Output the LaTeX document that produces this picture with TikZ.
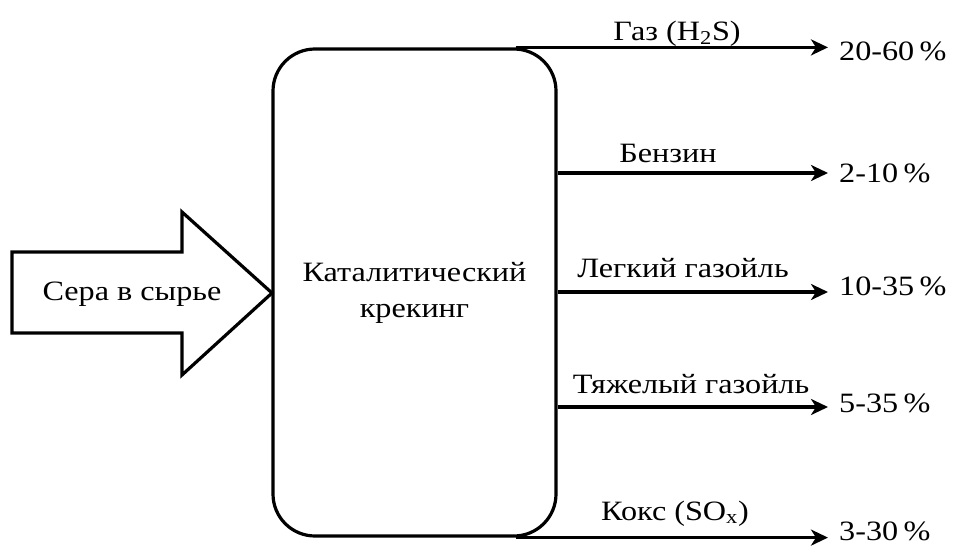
\documentclass[tikz,border=0pt]{standalone}
\usepackage{fontspec}
\usepackage{graphicx}
\setmainfont{Liberation Serif}
\usetikzlibrary{arrows.meta}
\newcommand\wide[1]{\scalebox{1.15}[1]{#1}}
\begin{document}
\begin{tikzpicture}[x=1pt,y=-1pt,
  every node/.style={font=\fontsize{28}{36}\selectfont, inner sep=0pt},
  procbox/.style={draw, line width=3.2pt, rounded corners=42pt, minimum width=283pt, minimum height=487pt},
  flow/.style={line width=3.2pt, -{Stealth[length=17pt,width=16pt,inset=5pt]}},
  blockarrow/.style={draw, line width=3.2pt, line join=miter},
  lbl/.style={anchor=base},
  pct/.style={anchor=base west, inner xsep=11pt}]
\useasboundingbox (0,0) rectangle (954,546);
% process box
\node[procbox] (box) at (414.5,292.5) {\wide{\begin{tabular}{@{}c@{}}Каталитический\\крекинг\end{tabular}}};
% input block arrow
\draw[blockarrow] (12,252) -- (182,252) -- (182,212) -- (272,293) -- (182,375) -- (182,333) -- (12,333) -- cycle;
\node[anchor=base] (in) at (132,300) {\wide{Сера в сырье}};
% outputs
\coordinate (s1) at ([xshift=-42pt]box.north east);
\coordinate (s2) at (box.east |- 0,173);
\coordinate (s3) at (box.east |- 0,292);
\coordinate (s4) at (box.east |- 0,407);
\coordinate (s5) at ([xshift=-42pt]box.south east);
\node[pct] (p1) at (828,60) {\wide{20-60\,\%}};
\node[pct] (p2) at (828,182) {\wide{2-10\,\%}};
\node[pct] (p3) at (828,295) {\wide{10-35\,\%}};
\node[pct] (p4) at (828,412) {\wide{5-35\,\%}};
\node[pct] (p5) at (828,540) {\wide{3-30\,\%}};
\draw[flow] (s1) -- (s1 -| p1.west);
\draw[flow] (s2) -- (s2 -| p2.west);
\draw[flow] (s3) -- (s3 -| p3.west);
\draw[flow] (s4) -- (s4 -| p4.west);
\draw[flow] (s5) -- (s5 -| p5.west);
\node[lbl] (l1) at (677,40) {\wide{Газ (H\textsubscript{2}S)}};
\node[lbl] (l2) at (668,162) {\wide{Бензин}};
\node[lbl] (l3) at (683,277) {\wide{Легкий газойль}};
\node[lbl] (l4) at (691,393) {\wide{Тяжелый газойль}};
\node[lbl] (l5) at (675,520) {\wide{Кокс (SO\textsubscript{x})}};
\end{tikzpicture}
\end{document}
